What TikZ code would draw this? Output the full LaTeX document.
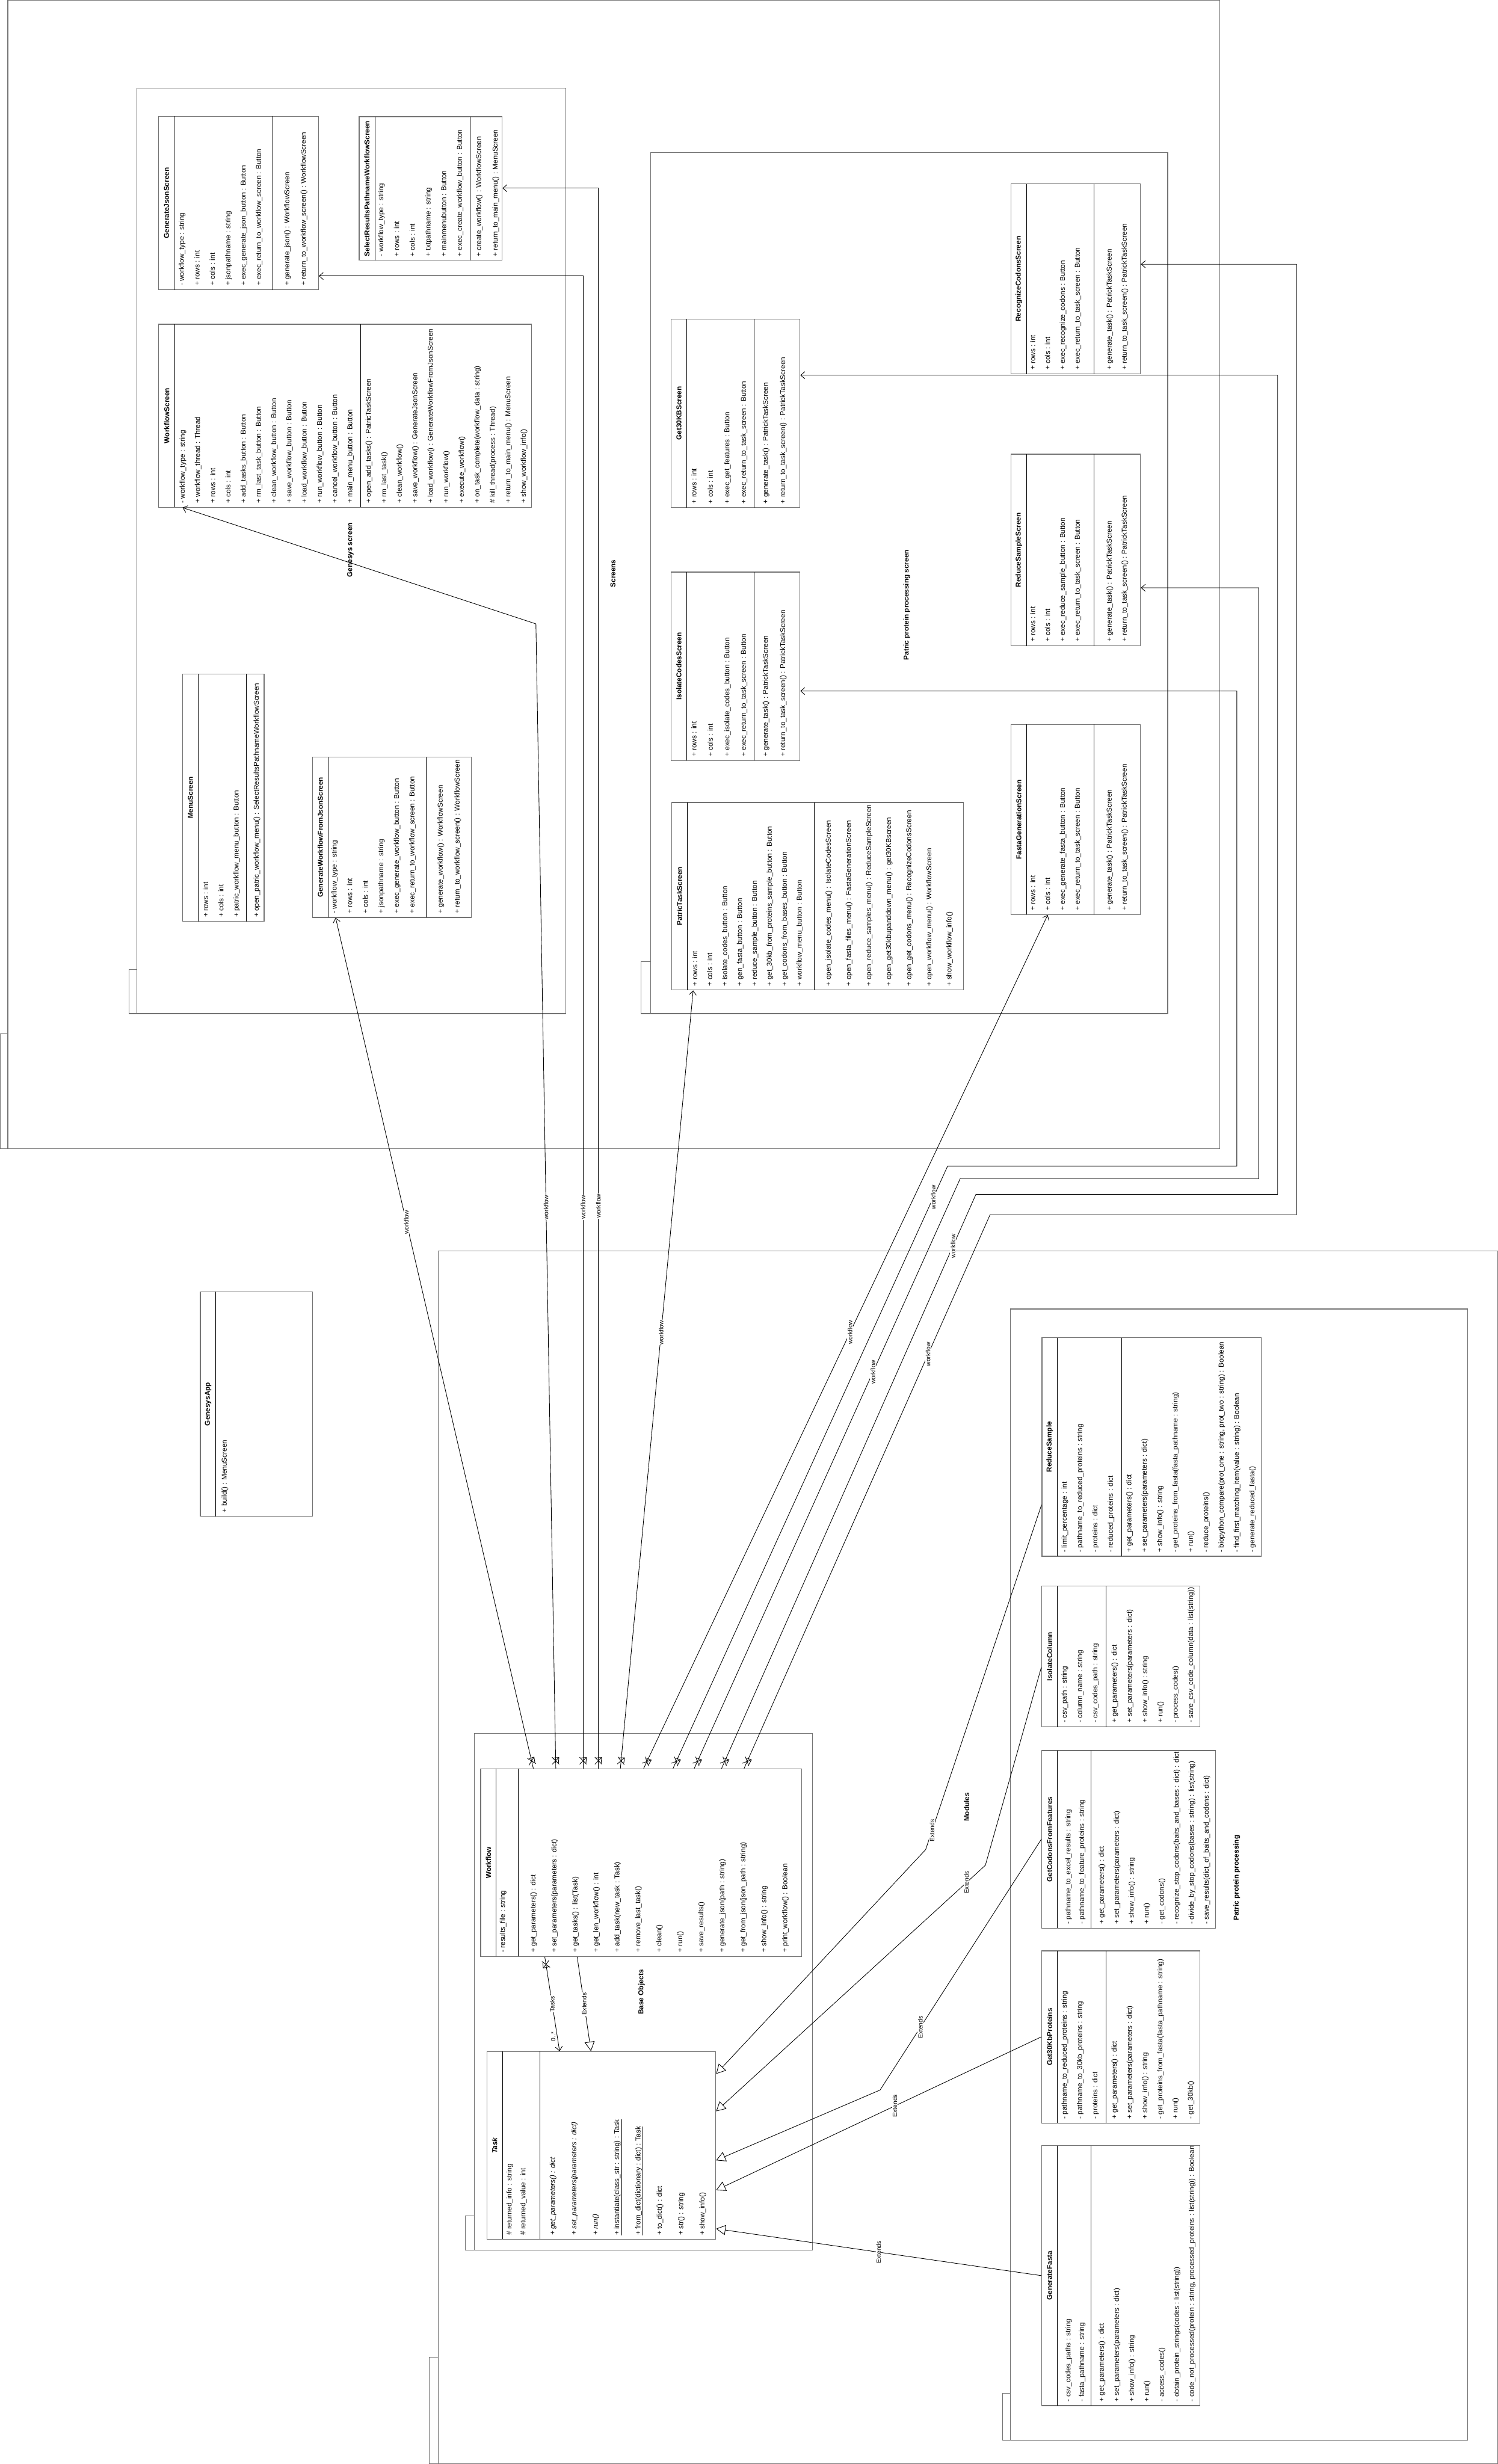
\documentclass[tikz,border=0pt]{standalone}
\usepackage{fontspec}
\setmainfont{Liberation Sans}
\usetikzlibrary{arrows.meta, positioning, calc, fit, decorations.markings}

% class box: name, x0, y0, x1, y1, header divider, member divider, title
\newcommand{\umlclass}[8]{%
  \node[cbox, fit={(#2,#3) (#4,#5)}] (#1) {};
  \draw[cdiv] (#6,#3) -- (#6,#5);
  \draw[cdiv] (#7,#3) -- (#7,#5);
  \node[ctitle] (#1-title) at ({(#2+#6)/2},{(#3+#5)/2}) {#8};
}
% members: prefix, first x, step, box bottom, list
\newcommand{\umlmembers}[5]{%
  \foreach \m [count=\i from 0] in {#5}
    \node[member] (#1-\i) at ({#2+\i*#3},{#4-2.5}) {\m};
}

\begin{document}
\begin{tikzpicture}[x=2.6664pt, y=-2.6664pt,
  cbox/.style={draw=black!55, line width=1.3pt, inner sep=0pt},
  cdiv/.style={draw=black, line width=1pt},
  ctitle/.style={rotate=90, font=\fontsize{12}{14}\selectfont\bfseries, inner sep=0pt},
  member/.style={rotate=90, anchor=west, font=\fontsize{12}{14}\selectfont, inner sep=0pt, text height=8.5pt, text depth=2.5pt},
  pkg/.style={draw=black!55, line width=1.2pt},
  pkglabel/.style={rotate=90, font=\fontsize{12}{14}\selectfont\bfseries},
  lbl/.style={rotate=90, fill=white, inner sep=1pt, font=\fontsize{10.5}{12}\selectfont},
  assoc/.style={draw, line width=0.9pt, -{Straight Barb[length=7pt, width=12pt]}},
  extends/.style={draw, line width=0.9pt, -{Triangle[open, length=16pt, width=17pt]}},
  noNav/.style={postaction={decorate, decoration={markings, mark=at position 13pt with {\draw[line width=0.9pt] (-6pt,-6pt) -- (6pt,6pt) (-6pt,6pt) -- (6pt,-6pt);}}}}]
\useasboundingbox (0,0) rectangle (953,1568);

% packages
\draw[pkg] (5,0) rectangle (776,731);
\draw[pkg] (0,658) rectangle (5,731);
\draw[pkg] (87,56) rectangle (360,645);
\draw[pkg] (82,617) rectangle (87,645);
\draw[pkg] (414,97) rectangle (743,645);
\draw[pkg] (408,612) rectangle (414,645);
\draw[pkg] (279,796) rectangle (953,1568);
\draw[pkg] (273,1500) rectangle (279,1568);
\draw[pkg] (302,1103) rectangle (517,1432);
\draw[pkg] (296,1410) rectangle (302,1432);
\draw[pkg] (643,833) rectangle (934,1553);
\draw[pkg] (638,1523) rectangle (643,1553);

\node[pkglabel] (screens) at (390,365) {Screens};
\node[pkglabel] (genesysscreen) at (223,350) {Genesys screen};
\node[pkglabel] (patricscreen) at (577,385) {Patric protein processing screen};
\node[pkglabel] (baseobjects) at (408.2,1267.6) {Base Objects};
\node[pkglabel] (modules) at (615,1150) {Modules};
\node[pkglabel] (patricproc) at (787,1195) {Patric protein processing};

% Genesys screen
\umlclass{genjson}{101}{74}{202.6}{184.4}{111}{173.6}{GenerateJsonScreen}
\umlmembers{genjson-a}{116}{9.8}{184.4}{{- workflow\_type : string},{+ rows : int},{+ cols : int},{+ jsonpathname : string},{+ exec\_generate\_json\_button : Button},{+ exec\_return\_to\_workflow\_screen : Button}}
\umlmembers{genjson-m}{183}{10.5}{184.4}{{+ generate\_json() : WorkflowScreen},{+ return\_to\_workflow\_screen() : WorkflowScreen}}

\umlclass{selres}{228.5}{74.3}{319.5}{165.7}{238.5}{299}{SelectResultsPathnameWorkflowScreen}
\umlmembers{selres-a}{242.8}{10}{165.7}{{- workflow\_type : string},{+ rows : int},{+ cols : int},{+ txtpathname : string},{+ mainmenubutton : Button},{+ exec\_create\_workflow\_button : Button}}
\umlmembers{selres-m}{305}{10.5}{165.7}{{+ create\_workflow() : WorkflowScreen},{+ return\_to\_main\_menu() : MenuScreen}}

\umlclass{wfscreen}{101}{206.3}{338.3}{322.8}{111.2}{229.6}{WorkflowScreen}
\umlmembers{wfscreen-a}{116.4}{9.7}{322.8}{{- workflow\_type : string},{+ workflow\_thread : Thread},{+ rows : int},{+ cols : int},{+ add\_tasks\_button : Button},{+ rm\_last\_task\_button : Button},{+ clean\_workflow\_button : Button},{+ save\_workflow\_button : Button},{+ load\_workflow\_button : Button},{+ run\_workflow\_button : Button},{+ cancel\_workflow\_button : Button},{+ main\_menu\_button : Button}}
\umlmembers{wfscreen-m}{234.8}{9.87}{322.8}{{+ open\_add\_tasks() : PatricTaskScreen},{+ rm\_last\_task()},{+ clean\_workflow()},{+ save\_workflow() : GenerateJsonScreen},{+ load\_workflow() : GenerateWorkflowFromJsonScreen},{+ run\_workflow()},{+ execute\_workflow()},{+ on\_task\_complete(workflow\_data : string)},{\# kill\_thread(process : Thread)},{+ return\_to\_main\_menu() : MenuScreen},{+ show\_workflow\_info()}}

\umlclass{menu}{116.3}{428.8}{168.1}{586.3}{126}{156.9}{MenuScreen}
\umlmembers{menu-a}{131.3}{9.7}{586.3}{{+ rows : int},{+ cols : int},{+ patric\_workflow\_menu\_button : Button}}
\umlmembers{menu-m}{163.5}{10}{586.3}{{+ open\_patric\_workflow\_menu() : SelectResultsPathnameWorkflowScreen}}

\umlclass{genwf}{198.8}{481.9}{300}{583.8}{208.8}{271.3}{GenerateWorkflowFromJsonScreen}
\umlmembers{genwf-a}{213.1}{9.9}{583.8}{{- workflow\_type : string},{+ rows : int},{+ cols : int},{+ jsonpathname : string},{+ exec\_generate\_workflow\_button : Button},{+ exec\_return\_to\_workflow\_screen : Button}}
\umlmembers{genwf-m}{280.6}{10.7}{583.8}{{+ generate\_workflow() : WorkflowScreen},{+ return\_to\_workflow\_screen() : WorkflowScreen}}

% Patric protein processing screen
\umlclass{getkbscreen}{427}{203}{509}{323}{437}{480}{Get30KBScreen}
\umlmembers{getkbscreen-a}{442}{10.5}{323}{{+ rows : int},{+ cols : int},{+ exec\_get\_features : Button},{+ exec\_return\_to\_task\_screen : Button}}
\umlmembers{getkbscreen-m}{487.5}{11}{323}{{+ generate\_task() : PatrickTaskScreen},{+ return\_to\_task\_screen() : PatrickTaskScreen}}

\umlclass{isocodes}{427}{364}{509}{484}{437}{480}{IsolateCodesScreen}
\umlmembers{isocodes-a}{442}{10.5}{484}{{+ rows : int},{+ cols : int},{+ exec\_isolate\_codes\_button : Button},{+ exec\_return\_to\_task\_screen : Button}}
\umlmembers{isocodes-m}{487.5}{11}{484}{{+ generate\_task() : PatrickTaskScreen},{+ return\_to\_task\_screen() : PatrickTaskScreen}}

\umlclass{patric}{427.5}{510.7}{613.2}{630}{437.2}{518.2}{PatricTaskScreen}
\umlmembers{patric-a}{442.5}{9.5}{630}{{+ rows : int},{+ cols : int},{+ isolate\_codes\_button : Button},{+ gen\_fasta\_button : Button},{+ reduce\_sample\_button : Button},{+ get\_30kb\_from\_proteins\_sample\_button : Button},{+ get\_codons\_from\_bases\_button : Button},{+ workflow\_menu\_button : Button}}
\umlmembers{patric-m}{527.5}{12.8}{630}{{+ open\_isolate\_codes\_menu() : IsolateCodesScreen},{+ open\_fasta\_files\_menu() : FastaGenerationScreen},{+ open\_reduce\_samples\_menu() : ReduceSampleScreen},{+ open\_get30kbupanddown\_menu() : get30KBscreen},{+ open\_get\_codons\_menu() : RecognizeCodonsScreen},{+ open\_workflow\_menu() : WorkflowScreen},{+ show\_workflow\_info()}}

\umlclass{recog}{643.2}{117}{725.7}{238}{653.4}{696.3}{RecognizeCodonsScreen}
\umlmembers{recog-a}{657.5}{9.5}{238}{{+ rows : int},{+ cols : int},{+ exec\_recognize\_codons : Button},{+ exec\_return\_to\_task\_screen : Button}}
\umlmembers{recog-m}{706.3}{9.5}{238}{{+ generate\_task() : PatrickTaskScreen},{+ return\_to\_task\_screen() : PatrickTaskScreen}}

\umlclass{redscreen}{643.2}{289}{725.7}{411}{653.4}{696.3}{ReduceSampleScreen}
\umlmembers{redscreen-a}{657.5}{9.5}{411}{{+ rows : int},{+ cols : int},{+ exec\_reduce\_sample\_button : Button},{+ exec\_return\_to\_task\_screen : Button}}
\umlmembers{redscreen-m}{706.3}{9.5}{411}{{+ generate\_task() : PatrickTaskScreen},{+ return\_to\_task\_screen() : PatrickTaskScreen}}

\umlclass{fastascreen}{643.2}{461}{725.7}{582}{653.4}{696.3}{FastaGenerationScreen}
\umlmembers{fastascreen-a}{657.5}{9.5}{582}{{+ rows : int},{+ cols : int},{+ exec\_generate\_fasta\_button : Button},{+ exec\_return\_to\_task\_screen : Button}}
\umlmembers{fastascreen-m}{706.3}{9.5}{582}{{+ generate\_task() : PatrickTaskScreen},{+ return\_to\_task\_screen() : PatrickTaskScreen}}

% app
\umlclass{genesys}{127.5}{822}{198.8}{965}{137.3}{137.3}{GenesysApp}
\umlmembers{genesys-m}{143.1}{10}{965}{{+ build() : MenuScreen}}

% Base Objects
\umlclass{workflow}{305.9}{1125.6}{510}{1245}{315.7}{329.6}{Workflow}
\umlmembers{workflow-a}{320.2}{10}{1245}{{- results\_file : string}}
\umlmembers{workflow-m}{339.6}{13.35}{1245}{{+ get\_parameters() : dict},{+ set\_parameters(parameters : dict)},{+ get\_tasks() : list(Task)},{+ get\_len\_workflow() : int},{+ add\_task(new\_task : Task)},{+ remove\_last\_task()},{+ clean()},{+ run()},{+ save\_results()},{+ generate\_json(path : string)},{+ get\_from\_json(json\_path : string)},{+ show\_info() : string},{+ print\_workflow() : Boolean}}

\umlclass{task}{309.8}{1305.5}{455.4}{1425}{319.7}{343.4}{\textit{Task}}
\umlmembers{task-a}{324.4}{8.8}{1425}{{\# returned\_info : string},{\# returned\_value : int}}
\umlmembers{task-m}{352}{13.6}{1425}{{\textit{+ get\_parameters() : dict}},{\textit{+ set\_parameters(parameters : dict)}},{\textit{+ run()}},{\underline{+ instantiate(class\_str : string) : Task}},{\underline{+ from\_dict(dictionary : dict) : Task}},{+ to\_dict() : dict},{+ str() : string},{+ show\_info()}}

% Patric protein processing
\umlclass{reduce}{663}{851.2}{802.6}{990.3}{672.9}{713.6}{ReduceSample}
\umlmembers{reduce-a}{677.6}{9.8}{990.3}{{- limit\_percentage : int},{- pathname\_to\_reduced\_proteins : string},{- proteins : dict},{- reduced\_proteins : dict}}
\umlmembers{reduce-m}{718.8}{9.78}{990.3}{{+ get\_parameters() : dict},{+ set\_parameters(parameters : dict)},{+ show\_info() : string},{- get\_proteins\_from\_fasta(fasta\_pathname : string)},{+ run()},{- reduce\_proteins()},{- biopython\_compare(prot\_one : string, prot\_two : string) : Boolean},{- find\_first\_matching\_item(value : string) : Boolean},{- generate\_reduced\_fasta()}}

\umlclass{isocol}{662.8}{1009.3}{763.6}{1098.9}{672.9}{703.8}{IsolateColumn}
\umlmembers{isocol-a}{677.6}{9.8}{1098.9}{{- csv\_path : string},{- column\_name : string},{- csv\_codes\_path : string}}
\umlmembers{isocol-m}{709.4}{9.72}{1098.9}{{+ get\_parameters() : dict},{+ set\_parameters(parameters : dict)},{+ show\_info() : string},{+ run()},{- process\_codes()},{- save\_csv\_code\_column(data : list(string))}}

\umlclass{codons}{662.8}{1114}{773.6}{1227}{672.9}{694.1}{GetCodonsFromFeatures}
\umlmembers{codons-a}{680}{8.6}{1227}{{- pathname\_to\_excel\_results : string},{- pathname\_to\_feature\_proteins : string}}
\umlmembers{codons-m}{701.3}{9.53}{1227}{{+ get\_parameters() : dict},{+ set\_parameters(parameters : dict)},{+ show\_info() : string},{+ run()},{- get\_codons()},{- recognize\_stop\_codons(baits\_and\_bases : dict) : dict},{- divide\_by\_stop\_codons(bases : string) : list(string)},{- save\_results(dict\_of\_baits\_and\_codons : dict)}}

\umlclass{getkb}{662.8}{1241.4}{763.6}{1351}{672.9}{703.8}{Get30KbProteins}
\umlmembers{getkb-a}{677.6}{9.8}{1351}{{- pathname\_to\_reduced\_proteins : string},{- pathname\_to\_30kb\_proteins : string},{- proteins : dict}}
\umlmembers{getkb-m}{709.4}{9.7}{1351}{{+ get\_parameters() : dict},{+ set\_parameters(parameters : dict)},{+ show\_info() : string},{- get\_proteins\_from\_fasta(fasta\_pathname : string)},{+ run()},{- get\_30kb()}}

\umlclass{fasta}{662.8}{1365.4}{763.6}{1530.8}{672.9}{694.1}{GenerateFasta}
\umlmembers{fasta-a}{680}{8.6}{1530.8}{{- csv\_codes\_paths : string},{- fasta\_pathname : string}}
\umlmembers{fasta-m}{701.3}{9.55}{1530.8}{{+ get\_parameters() : dict},{+ set\_parameters(parameters : dict)},{+ show\_info() : string},{+ run()},{- access\_codes()},{- obtain\_protein\_strings(codes : list(string))},{- code\_not\_processed(protein : string, processed\_proteins : list(string)) : Boolean}}

% workflow associations
\draw[assoc, noNav] ($(workflow.north west)+(33.7,0)$) -- node[lbl, pos=0.642] (l1) {workflow} ($(genwf.south west)+(15,0)$);
\draw[assoc, noNav] ($(workflow.north west)+(48,0)$) -- node[lbl, pos=0.49] (l2) {workflow} (341,397) -- ($(wfscreen.south west)+(15.4,0)$);
\draw[assoc, noNav] ($(workflow.north west)+(65.4,0)$) |- node[lbl, pos=0.188] (l3) {workflow} ($(genjson.south east)+(0,-9)$);
\draw[assoc, noNav] ($(workflow.north west)+(75.1,0)$) |- node[lbl, pos=0.178] (l4) {workflow} ($(selres.north east)+(0,45.7)$);
\draw[assoc, noNav] ($(workflow.north west)+(89.1,0)$) -- node[lbl, pos=0.56] (l5) {workflow} ($(patric.south west)+(13.8,0)$);
\draw[assoc, noNav] ($(workflow.north west)+(103.9,0)$) -- node[lbl, pos=0.511] (l6) {workflow} ($(fastascreen.south west)+(23.7,0)$);
\draw[assoc, noNav] ($(workflow.north west)+(122.6,0)$) -- node[lbl, pos=0.948] (l7) {workflow} (603,742) -- (787,742) |- ($(isocodes.north east)+(0,76)$);
\draw[assoc, noNav] ($(workflow.north west)+(136.1,0)$) -- node[lbl, pos=0.672] (l8) {workflow} (611,750) -- (801,750) |- ($(redscreen.north east)+(0,85.3)$);
\draw[assoc, noNav] ($(workflow.north west)+(153.5,0)$) -- node[lbl, pos=0.91] (l9) {workflow} (621,760) -- (813,760) |- ($(getkbscreen.north east)+(0,36)$);
\draw[assoc, noNav] ($(workflow.north west)+(167.8,0)$) -- node[lbl, pos=0.748] (l10) {workflow} (630,773) -- (825,773) |- ($(recog.north east)+(0,51.4)$);

% workflow and task
\draw[assoc, noNav] ($(workflow.south west)+(41,0)$) -- node[lbl, pos=0.5] (tasks) {Tasks} ($(task.north west)+(46.5,0)$);
\node[rotate=90, inner sep=1pt, font=\fontsize{10.5}{12}\selectfont] (mult) at (352,1296) {0..*};
\draw[extends] ($(workflow.south west)+(61.6,0)$) -- node[lbl, pos=0.5] (ext0) {Extends} ($(task.north west)+(66.5,0)$);

% modules extend task
\draw[extends] ($(reduce.south west)+(0,-33)$) -- node[lbl, pos=0.945] (ext1) {Extends} (589,1177) -- ($(task.north east)+(0,14.5)$);
\draw[extends] ($(isocol.south west)+(0,-38)$) -- (627,1187) -- node[lbl, pos=0.07] (ext2) {Extends} ($(task.north east)+(0,38.3)$);
\draw[extends] (codons.west) -- node[lbl, pos=0.75] (ext3) {Extends} (560,1330) -- ($(task.north east)+(0,69.5)$);
\draw[extends] (getkb.west) -- node[lbl, pos=0.45] (ext4) {Extends} ($(task.north east)+(0,88.5)$);
\draw[extends] (fasta.west) -- node[lbl, pos=0.5] (ext5) {Extends} ($(task.north east)+(0,113)$);
\end{tikzpicture}
\end{document}
